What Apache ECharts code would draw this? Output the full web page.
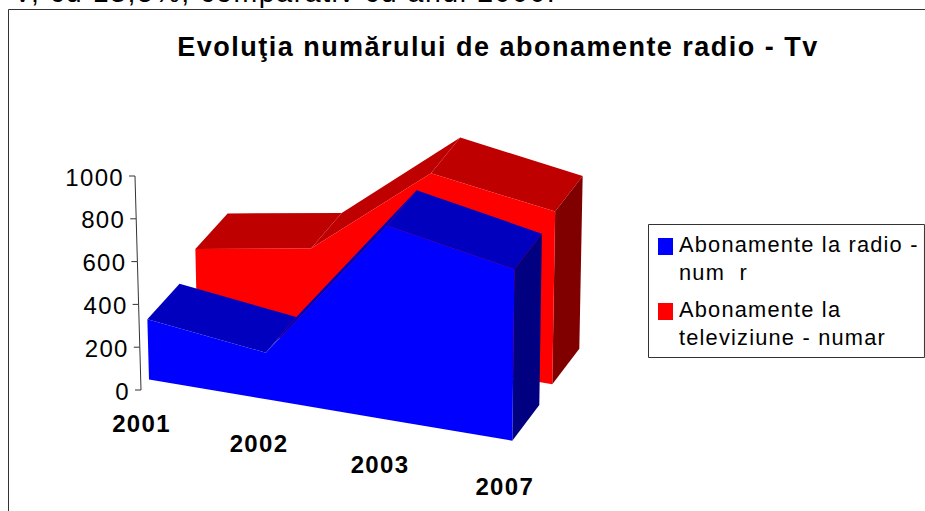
<!DOCTYPE html>
<html><head><meta charset="utf-8">
<style>html,body{margin:0;padding:0;background:#fff;overflow:hidden}#c{width:925px;height:511px}
svg text{letter-spacing:.055em}</style>
<script src="https://cdn.jsdelivr.net/npm/echarts@6/dist/echarts.min.js"></script>
</head><body><div id="c"></div>
<script>
// ---- data ----
const categories = ['2001', '2002', '2003', '2007'];
const radioValues = [281, 218, 906, 801];
const tvValues = [348, 442, 889, 807];
const yTicks = [0, 200, 400, 600, 800, 1000];
const radioName = 'Abonamente la radio -\nnum  r';
const tvName = 'Abonamente la\nteleviziune - numar';
const titleText = 'Evoluţia numărului de abonamente radio - Tv';
const captionText = 'V, cu 13,5%, comparativ cu anul 2000.';

// ---- 3D look: an oblique projection applied on top of the axis scales ----
const GRID = {left: 150, top: 176, width: 362.3, height: 214};
const LAYERS = [
  {x0: 149, x1: 512.3, y0: 379.5, y1: 440.7, front: '#0000FF', top: '#0000BE', side: '#000080'},
  {x0: 197, x1: 552.3, y0: 323.5, y1: 384.3, front: '#FF0000', top: '#BE0000', side: '#800000'}
];
const PERSP = 1.046, LEAN = 0.0000232, LEAN_X = 400;

function project(api, cat, value, layer, back) {
  const p = api.coord([cat, value]);
  const t = (p[0] - GRID.left) / GRID.width;
  const s = t / (t + PERSP * (1 - t));
  const L = LAYERS[layer];
  const rise = GRID.top + GRID.height - p[1];
  let x = L.x0 + (L.x1 - L.x0) * s;
  let y = L.y0 + (L.y1 - L.y0) * s - rise;
  if (back) { x += 32 - 5 * s; y -= 35.6; }
  x += (x - LEAN_X) * LEAN * value;
  return [x, y];
}

function solid(layer) {
  return function (params, api) {
    if (params.dataIndex !== 0) return null;
    const L = LAYERS[layer], n = categories.length, kids = [];
    const poly = (pts, fill) => kids.push({type: 'polygon', shape: {points: pts}, style: {fill, stroke: null}});
    const val = i => api.value(1, i);
    const P = (i, v, b) => project(api, i, v, layer, b);
    for (let i = 0; i < n - 1; i++) {
      const a = P(i, val(i)), b = P(i + 1, val(i + 1)), c = P(i + 1, val(i + 1), true), d = P(i, val(i), true);
      const cross = (b[0] - a[0]) * (d[1] - a[1]) - (b[1] - a[1]) * (d[0] - a[0]);
      if (cross < 0) poly([a, b, c, d], L.top);
    }
    const last = n - 1;
    poly([P(last, val(last)), P(last, 0), P(last, 0, true), P(last, val(last), true)], L.side);
    const front = [];
    for (let i = 0; i < n; i++) front.push(P(i, val(i)));
    for (let i = n - 1; i >= 0; i--) front.push(P(i, 0));
    poly(front, L.front);
    return {type: 'group', children: kids};
  };
}

function yAxisItem(params, api) {
  const v = api.value(0);
  const y = api.coord([0, v])[1];
  const xAt = w => 141 + (141 - LEAN_X) * LEAN * w;
  const x = xAt(v), kids = [];
  kids.push({type: 'line', shape: {x1: x - 6, y1: y, x2: x, y2: y}, style: {stroke: '#333', lineWidth: 1}});
  if (params.dataIndex > 0) {
    const prev = api.value(0, params.dataIndex - 1);
    kids.push({type: 'line', shape: {x1: xAt(prev), y1: api.coord([0, prev])[1], x2: x, y2: y}, style: {stroke: '#333', lineWidth: 1}});
  }
  kids.push({type: 'text', style: {text: String(v), x: x - 11, y: y + 1, align: 'right', verticalAlign: 'middle',
    fontFamily: 'Liberation Sans', fontSize: 24, fill: '#000'}});
  return {type: 'group', children: kids};
}

function xLabelItem(params, api) {
  const i = params.dataIndex;
  const p = project(api, i, 0, 0, false);
  return {type: 'text', style: {text: categories[i], x: p[0] - 7.5, y: p[1] + 31.5 + 0.7 * i,
    align: 'center', verticalAlign: 'alphabetic', textBaseline: 'middle', fontFamily: 'Liberation Sans', fontWeight: 'bold', fontSize: 24, fill: '#000'}};
}

const chart = echarts.init(document.getElementById('c'), null, {renderer: 'svg', width: 925, height: 511});
chart.setOption({
  animation: false,
  backgroundColor: '#fff',
  grid: GRID,
  xAxis: {type: 'category', data: categories, boundaryGap: false, show: false},
  yAxis: {type: 'value', min: 0, max: 1000, interval: 200, show: false},
  title: {text: titleText, left: 493, top: 28, textAlign: 'center',
    textStyle: {fontFamily: 'Liberation Sans', fontWeight: 'bold', fontSize: 27, color: '#000'}},
  legend: {
    left: 648.5, top: 224.5, orient: 'vertical', align: 'left',
    data: [radioName, tvName],
    selectedMode: false,
    backgroundColor: '#fff', borderColor: '#333', borderWidth: 1,
    padding: [6.5, 31, 6.5, 9.5],
    itemWidth: 15, itemHeight: 55, itemGap: 10,
    icon: 'path://M0,0L0,0M0,7H15V24H0ZM0,55L0,55',
    textStyle: {fontFamily: 'Liberation Sans', fontSize: 21.8, lineHeight: 27.5, color: '#000', padding: [0, 0, 0, 1]}
  },
  graphic: [
    {type: 'rect', shape: {x: 8.5, y: 9.5, width: 1000, height: 1000}, style: {fill: 'none', stroke: '#333', lineWidth: 1}, z: 0},
    {type: 'text', style: {text: captionText, x: 13, y: 6, verticalAlign: 'bottom', fontFamily: 'Liberation Sans', fontSize: 28.5, fill: '#000'}}
  ],
  series: [
    {type: 'custom', name: 'axis', coordinateSystem: 'cartesian2d', silent: true, data: yTicks.map(v => [v]), encode: {x: [], y: []}, renderItem: yAxisItem, z: 3, clip: false},
    {type: 'custom', name: tvName, coordinateSystem: 'cartesian2d', itemStyle: {color: '#FF0000'}, data: tvValues.map((v, i) => [i, v]), renderItem: solid(1), z: 4, silent: true, clip: false},
    {type: 'custom', name: radioName, coordinateSystem: 'cartesian2d', itemStyle: {color: '#0000FF'}, data: radioValues.map((v, i) => [i, v]), renderItem: solid(0), z: 5, silent: true, clip: false},
    {type: 'custom', name: 'labels', coordinateSystem: 'cartesian2d', silent: true, data: categories.map((c, i) => [i, 0]), renderItem: xLabelItem, z: 6, clip: false}
  ]
});
</script></body></html>
